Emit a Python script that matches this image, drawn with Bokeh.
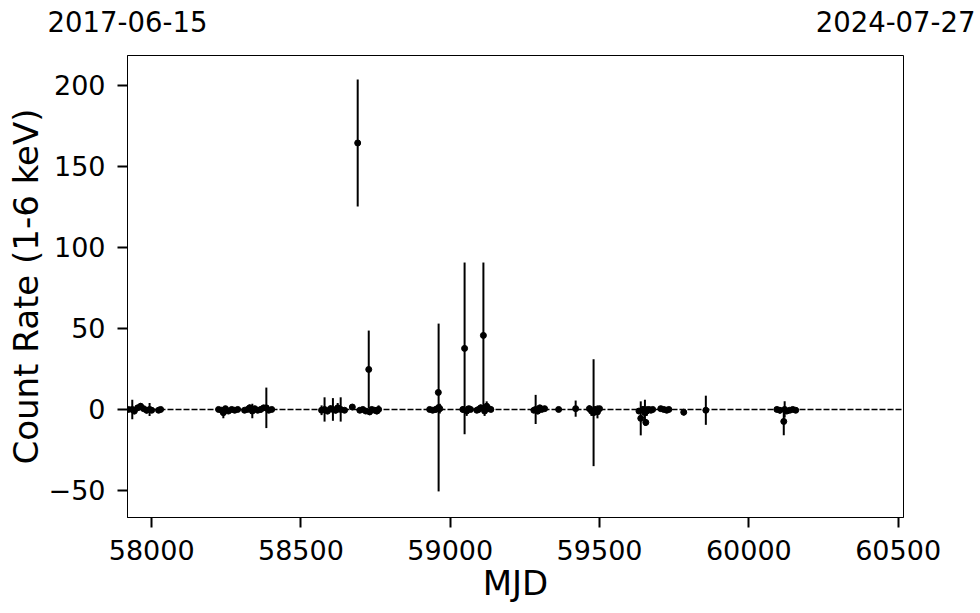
from bokeh.plotting import figure
from bokeh.models import Range1d, Span, FixedTicker, ColumnDataSource, LinearAxis
from bokeh.embed import file_html
from bokeh.resources import INLINE

# ---- data ----
mjd = [57922, 57935, 57942, 57953, 57963, 57973, 57983, 57993, 58000, 58023, 58030,
       58224, 58234, 58240, 58247, 58257, 58268, 58278, 58288,
       58311, 58321, 58328, 58337, 58345, 58355, 58365, 58375, 58384, 58392, 58402,
       58569, 58579, 58589, 58599, 58607, 58616, 58623, 58633, 58646, 58672,
       58690,
       58697, 58707, 58717, 58727, 58730, 58737, 58747, 58754, 58760,
       58931, 58941, 58951, 58960, 58961, 58965,
       59042, 59048, 59055, 59062, 59068,
       59089, 59095, 59102, 59111, 59115, 59122, 59129, 59136,
       59280, 59286, 59293, 59300, 59306, 59316,
       59363, 59420,
       59466, 59473, 59480, 59486, 59493, 59500,
       59632, 59638, 59645, 59652, 59655, 59658, 59665, 59672, 59678,
       59705, 59715, 59725, 59732,
       59782, 59856,
       60094, 60104, 60117, 60120, 60127, 60137, 60147, 60157]
rate = [0.0, 0.0, -1.0, 1.0, 2.0, 0.5, -0.5, 0.0, -0.5, -0.5, 0.0,
        0.0, -0.5, -2.0, 0.5, -1.0, 0.0, -0.5, 0.0,
        -0.5, 0.0, 1.0, -1.0, 0.5, -0.5, 0.0, 1.0, 1.0, -0.5, 0.0,
        -0.5, 0.0, -1.0, 0.5, 0.0, -0.5, 1.0, 0.0, -0.5, 1.5,
        164.5,
        -0.5, 0.0, -1.0, 24.7, -1.5, 0.0, -0.5, -1.0, 0.0,
        0.0, -0.5, 0.0, 10.5, 1.2, 0.5,
        0.0, 37.7, -1.0, 0.5, 0.0,
        -0.5, 0.0, 1.0, 45.7, -1.0, 2.0, 0.5, 0.0,
        -0.5, 0.0, -1.0, 1.0, 0.0, 0.5,
        0.0, 0.5,
        0.5, -1.0, -2.0, 0.0, -1.5, 0.5,
        -1.0, -5.5, 0.0, -2.0, -8.0, -1.0, 0.0, -0.5, 0.0,
        0.5, 0.0, -0.5, 0.0,
        -1.7, -0.5,
        0.0, -0.5, -7.4, 0.0, -1.0, -0.5, 0.0, -0.5]
err = [1.0, 6.0, 2.0, 1.5, 2.0, 1.5, 2.0, 4.0, 1.5, 1.0, 1.0,
       1.5, 1.5, 3.5, 1.0, 1.5, 1.0, 1.5, 1.0,
       1.5, 1.0, 2.0, 4.5, 1.5, 1.0, 2.0, 1.5, 12.5, 1.5, 1.0,
       3.0, 7.5, 2.0, 2.0, 7.0, 2.0, 3.0, 7.5, 1.5, 1.5,
       39.2,
       1.5, 1.0, 1.5, 24.0, 2.0, 1.0, 1.5, 2.0, 2.5,
       1.0, 1.5, 2.0, 1.0, 51.8, 3.0,
       2.0, 53.0, 3.0, 1.5, 1.5,
       1.5, 2.0, 2.0, 45.0, 3.0, 3.0, 2.0, 1.0,
       1.5, 9.0, 2.0, 1.5, 1.5, 1.0,
       1.0, 5.0,
       2.0, 3.0, 33.0, 2.0, 4.0, 1.5,
       1.5, 10.5, 2.0, 8.0, 2.0, 3.0, 1.5, 1.5, 1.0,
       1.0, 1.5, 1.5, 1.0,
       2.0, 9.0,
       1.5, 2.0, 8.6, 5.0, 1.5, 1.0, 1.5, 1.0]

x_ticks = [58000, 58500, 59000, 59500, 60000, 60500]
y_ticks = [-50, 0, 50, 100, 150, 200]
date_ticks = [57919, 60518]
date_labels = ["2017-06-15", "2024-07-27"]

lower = [r - e for r, e in zip(rate, err)]
upper = [r + e for r, e in zip(rate, err)]
src = ColumnDataSource(dict(x=mjd, y=rate, lo=lower, hi=upper))

FONT = "DejaVu Sans"

p = figure(width=975, height=610, output_backend="svg", toolbar_location=None,
           x_range=Range1d(date_ticks[0], date_ticks[1]), y_range=Range1d(-66.7, 218.5),
           min_border_left=127, min_border_right=72, min_border_top=55, min_border_bottom=93,
           x_axis_label="MJD", y_axis_label="Count Rate (1-6 keV)")

p.segment(x0="x", y0="lo", x1="x", y1="hi", source=src, line_color="black", line_width=2)
p.scatter("x", "y", source=src, size=6, fill_color="black", line_color="black")
p.add_layout(Span(location=0, dimension="width", line_color="black",
                  line_dash="6 2", line_width=1.5))

p.xgrid.visible = False
p.ygrid.visible = False
p.outline_line_color = "black"
p.outline_line_width = 1
p.outline_line_alpha = 1
p.background_fill_color = "white"
p.border_fill_color = "white"

p.xaxis.ticker = FixedTicker(ticks=x_ticks)
p.yaxis.ticker = FixedTicker(ticks=y_ticks)
p.yaxis.major_label_overrides = {t: str(t).replace("-", "\u2212") for t in y_ticks}

for ax in (p.xaxis[0], p.yaxis[0]):
    ax.major_tick_out = 10
    ax.major_tick_in = 0
    ax.minor_tick_out = 0
    ax.minor_tick_in = 0
    ax.major_tick_line_width = 2
    ax.major_tick_line_color = "black"
    ax.axis_line_color = "black"
    ax.axis_line_width = 1
    ax.major_label_text_font = FONT
    ax.major_label_text_font_size = "27px"
    ax.major_label_text_color = "black"
    ax.axis_label_text_font = FONT
    ax.axis_label_text_font_size = "34px"
    ax.axis_label_text_font_style = "normal"
    ax.axis_label_text_color = "black"

p.xaxis.major_label_standoff = 12
p.xaxis.axis_label_standoff = 0
p.yaxis.major_label_standoff = 12
p.yaxis.axis_label_standoff = 0

# top axis carrying the calendar dates of the range ends
top = LinearAxis(ticker=FixedTicker(ticks=date_ticks),
                 major_label_overrides={t: s for t, s in zip(date_ticks, date_labels)})
top.axis_line_color = None
top.major_tick_out = 0
top.major_tick_in = 0
top.minor_tick_out = 0
top.minor_tick_in = 0
top.major_label_standoff = 24
top.major_label_text_font = FONT
top.major_label_text_font_size = "27.5px"
top.major_label_text_color = "black"
p.add_layout(top, "above")

open("out.html", "w").write(file_html(p, INLINE))
